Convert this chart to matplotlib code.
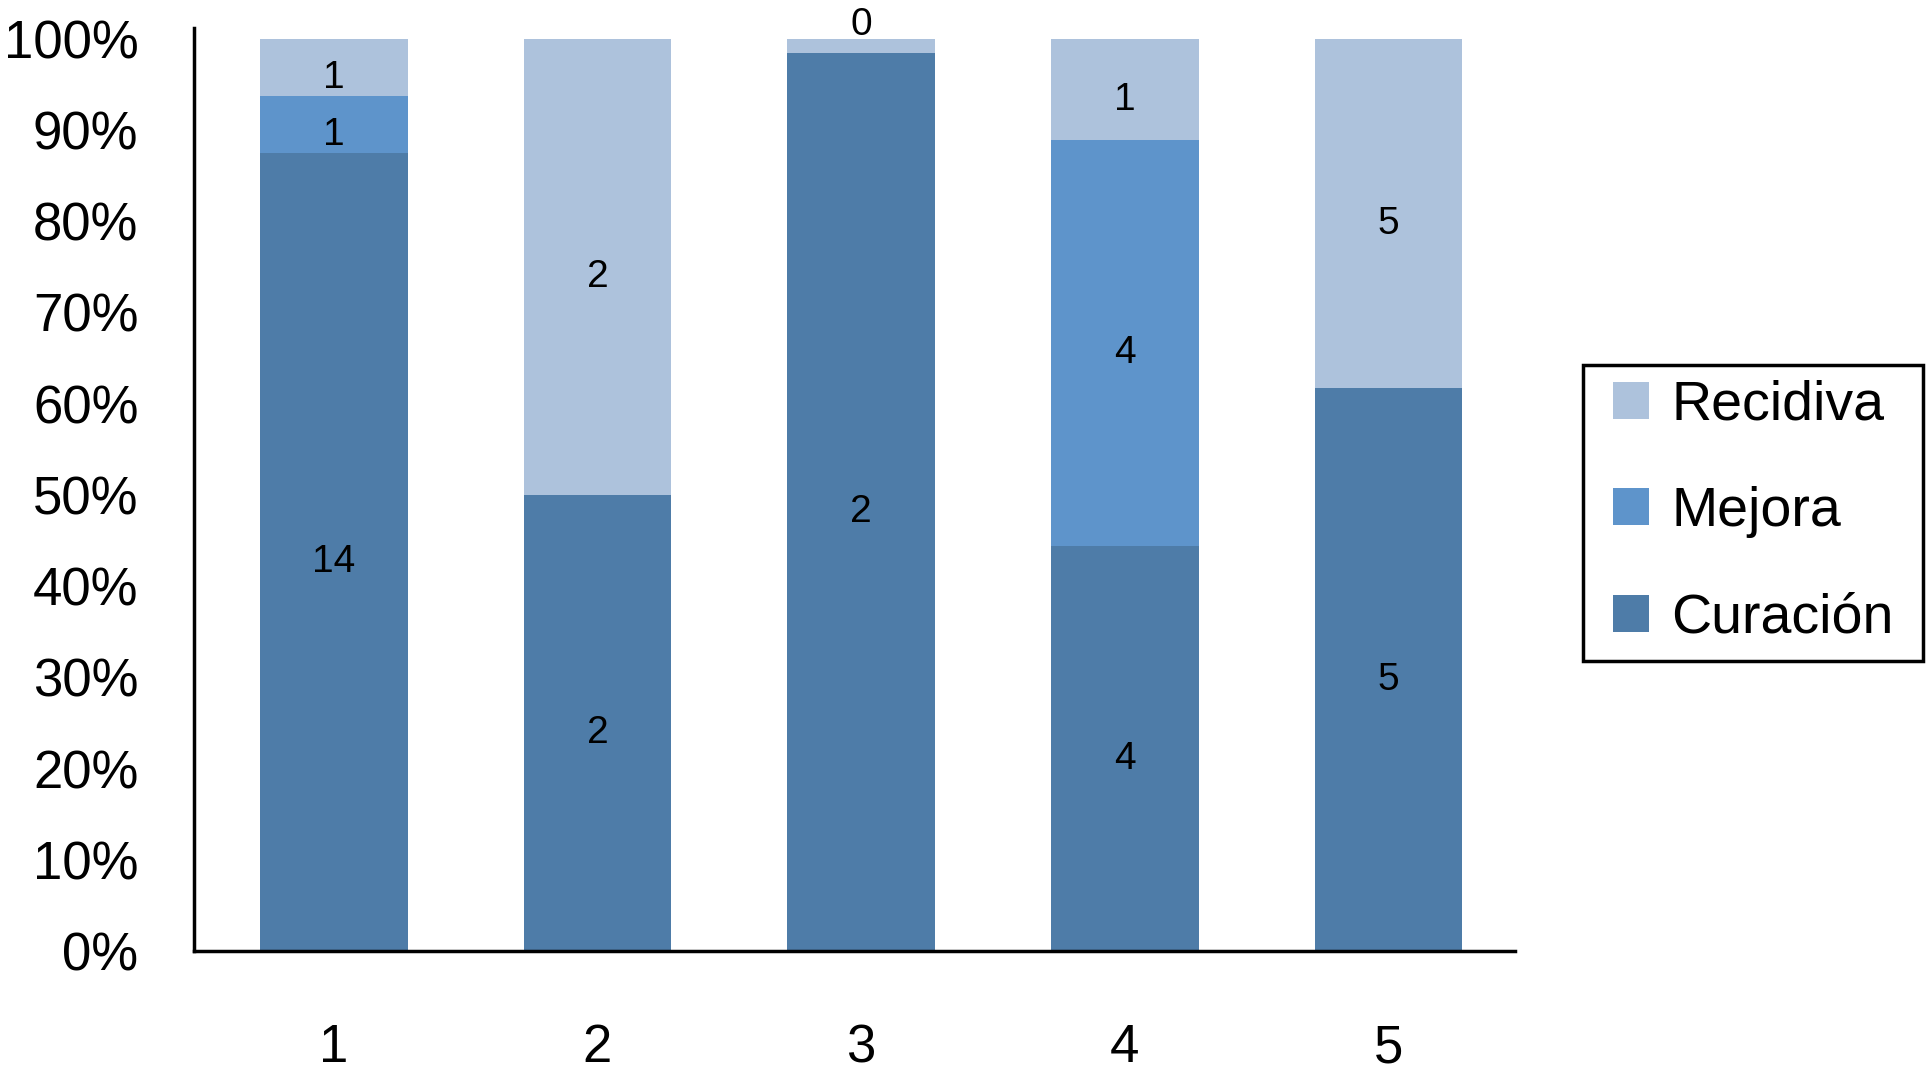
import matplotlib
matplotlib.use("Agg")
from matplotlib import pyplot as plt
from matplotlib.patches import Rectangle
from matplotlib.ticker import PercentFormatter
import numpy as np

plt.rcParams['font.family'] = ['Liberation Sans', 'DejaVu Sans']

# share of each group (%)
categories = ['1', '2', '3', '4', '5']
curacion = [87.5, 50.0, 98.4, 44.4, 61.7]
mejora = [6.25, 0.0, 0.0, 44.5, 0.0]
recidiva = [6.25, 50.0, 1.6, 11.1, 38.3]

# counts written inside the segments (None = no label)
curacion_lbl = ['14', '2', '2', '4', '5']
mejora_lbl = ['1', None, None, '4', None]
recidiva_lbl = ['1', '2', '0', '1', '5']

series = [
    ("Curación", curacion, curacion_lbl, "#4E7CA8"),
    ("Mejora", mejora, mejora_lbl, "#5E94CB"),
    ("Recidiva", recidiva, recidiva_lbl, "#ADC2DC"),
]

W, H = 1926, 1090
fig = plt.figure(figsize=(W / 100, H / 100), dpi=100)
ax = fig.add_axes([0.1007, 0.1275, 0.6859, 0.847])

x = np.arange(len(categories))
bottom = np.zeros(len(categories))
handles = []
for name, vals, lbls, color in series:
    vals = np.array(vals) / 100.0
    bars = ax.bar(x, vals, bottom=bottom, width=0.56, color=color, label=name)
    handles.append(bars)
    for i, (v, b, t) in enumerate(zip(vals, bottom, lbls)):
        if t is None:
            continue
        if v < 0.05:
            # too thin, put the label above the bar
            ax.annotate(t, (x[i], b + v), xytext=(0, 3), textcoords='offset points',
                        ha='center', va='baseline', fontsize=28)
        else:
            ax.annotate(t, (x[i], b + v / 2), xytext=(0, -4.5), textcoords='offset points',
                        ha='center', va='center_baseline', fontsize=28)
    bottom = bottom + vals

ax.set_xlim(-0.53, 4.48)
ax.set_ylim(0, 1.012)
ax.set_yticks(np.arange(0, 1.01, 0.1))
ax.yaxis.set_major_formatter(PercentFormatter(1.0, decimals=0))
ax.set_xticks(x)
ax.set_xticklabels(categories)
ax.tick_params(axis='y', length=0, pad=40, labelsize=38)
ax.tick_params(axis='x', length=0, pad=52, labelsize=38)

for s in ['top', 'right']:
    ax.spines[s].set_visible(False)
for s in ['left', 'bottom']:
    ax.spines[s].set_linewidth(2.5)
    ax.spines[s].set_color('black')

# legend entries without frame, box drawn separately for wider side margins
fig.legend(handles[::-1], [h.get_label() for h in handles[::-1]],
           loc='upper left', bbox_to_anchor=(1613 / W, 1 - 380 / H),
           borderaxespad=0, borderpad=0, fontsize=40, frameon=False,
           handlelength=0.65, handleheight=0.65,
           handletextpad=0.4, labelspacing=0.98)
fig.patches.append(Rectangle((1583 / W, 1 - 661 / H), 340 / W, 296 / H,
                             transform=fig.transFigure, fill=False,
                             edgecolor='black', linewidth=2.5))

fig.savefig("out.png", dpi=100)
